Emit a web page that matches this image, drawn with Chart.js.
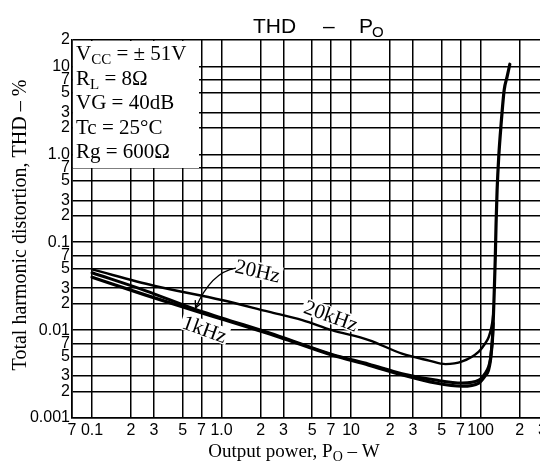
<!DOCTYPE html>
<html>
<head>
<meta charset="utf-8">
<style>
html, body { margin: 0; padding: 0; background: #fff; overflow: hidden; width: 540px; height: 463px; }
#wrap { width: 560px; height: 463px; }
</style>
</head>
<body>
<div id="wrap"><canvas id="thd" width="560" height="463"></canvas></div>
<script src="https://cdn.jsdelivr.net/npm/chart.js@4"></script>
<script>
// axis ticks (log-log paper)
const xTickValues = [0.07, 0.1, 0.2, 0.3, 0.5, 0.7, 1, 2, 3, 5, 7, 10, 20, 30, 50, 70, 100, 200, 300];
const xTickLabels = ['7', '0.1', '2', '3', '5', '7', '1.0', '2', '3', '5', '7', '10', '2', '3', '5', '7', '100', '2', '3'];
const yTickValues = [0.001, 0.002, 0.003, 0.005, 0.007, 0.01, 0.02, 0.03, 0.05, 0.07, 0.1, 0.2, 0.3, 0.5, 0.7, 1, 2, 3, 5, 7, 10, 20];
const yTickLabels = ['0.001', '2', '3', '5', '7', '0.01', '2', '3', '5', '7', '0.1', '2', '3', '5', '7', '1.0', '2', '3', '5', '7', '10', '2'];

// 20kHz curve
const po20k = [0.1, 0.3, 1, 2.3, 4.2, 7.1, 13.7, 24.7, 40, 53.5, 72, 96.8, 108, 115.7, 121, 123.7, 125.5];
const thd20k = [0.049, 0.032, 0.022, 0.0162, 0.013, 0.010, 0.0077, 0.0054, 0.0045, 0.0041, 0.0044, 0.0057, 0.007, 0.0084, 0.0108, 0.013, 0.016];

// 1kHz curve
const po1k = [0.1, 0.26, 0.63, 1, 2.8, 7.1, 13.7, 24.7, 45, 72, 96.8, 108, 115, 119, 121.5, 123.5, 125, 127.5, 129.8, 131.6, 134, 138, 144, 152, 160, 168];
const thd1k = [0.040, 0.025, 0.0165, 0.0134, 0.0083, 0.0052, 0.004, 0.0031, 0.0025, 0.0023, 0.0025, 0.003, 0.0035, 0.0045, 0.006, 0.008, 0.012, 0.0286, 0.068, 0.164, 0.39, 0.94, 2.23, 5.4, 7.6, 10.6];

// 20Hz curve
const po20 = [0.1, 0.26, 0.63, 1, 2.8, 7.1, 13.7, 24.7, 45, 72, 96.8, 108, 115, 119, 121.5, 123.5, 125];
const thd20 = [0.045, 0.028, 0.0172, 0.0138, 0.0085, 0.0053, 0.0041, 0.0032, 0.0027, 0.0025, 0.0027, 0.0032, 0.0038, 0.0047, 0.0062, 0.0082, 0.012];

// conditions box
const conditions = [
  [['V', 21, 0], ['CC', 15, 4], [' = \u00b1 51V', 21, 0]],
  [['R', 21, 0], ['L', 15, 4], [' = 8\u03a9', 21, 0]],
  [['VG = 40dB', 21, 0]],
  [['Tc = 25\u00b0C', 21, 0]],
  [['Rg = 600\u03a9', 21, 0]]
];

// curve labels (placed in data coordinates)
const noteText = ['20Hz', '1kHz', '20kHz'];
const noteP = [1.9, 0.74, 7.0];
const noteTHD = [0.047, 0.0102, 0.0145];
const noteAngle = [13, 20, 20];
// arrow from 20Hz label to its curve: start, control, tip
const arrowP = [1.29, 0.83, 0.63];
const arrowTHD = [0.0508, 0.0458, 0.0178];

const SERIF = '"Liberation Serif", "Times New Roman", serif';
const SANS = '"Liberation Sans", Arial, sans-serif';

function pts(xs, ys) {
  return xs.map((v, i) => ({ x: v, y: ys[i] }));
}

function runsWidth(ctx, runs, family) {
  let w = 0;
  runs.forEach(r => { ctx.font = r[1] + 'px ' + family; w += ctx.measureText(r[0]).width; });
  return w;
}

function drawRuns(ctx, x, y, runs, family) {
  runs.forEach(r => {
    ctx.font = r[1] + 'px ' + family;
    ctx.fillText(r[0], x, y + r[2]);
    x += ctx.measureText(r[0]).width;
  });
}

const paper = {
  id: 'paper',
  beforeDatasetsDraw(chart) {
    const ctx = chart.ctx, a = chart.chartArea, xs = chart.scales.x, ys = chart.scales.y;
    ctx.save();
    ctx.fillStyle = '#fff';
    ctx.fillRect(a.left + 1, a.top + 1, 126, 127);
    ctx.fillStyle = '#000';
    ctx.textAlign = 'left';
    ctx.textBaseline = 'alphabetic';
    conditions.forEach((runs, i) => drawRuns(ctx, a.left + 4, a.top + 20 + i * 24.5, runs, SERIF));

    noteText.forEach((t, i) => {
      const px = xs.getPixelForValue(noteP[i]), py = ys.getPixelForValue(noteTHD[i]);
      ctx.save();
      ctx.translate(px, py);
      ctx.rotate(noteAngle[i] * Math.PI / 180);
      ctx.font = '21px ' + SERIF;
      const w = ctx.measureText(t).width;
      ctx.fillStyle = '#fff';
      ctx.fillRect(-w / 2 - 2, -9, w + 4, 17);
      ctx.fillStyle = '#000';
      ctx.textAlign = 'center';
      ctx.textBaseline = 'middle';
      ctx.fillText(t, 0, 1);
      ctx.restore();
    });

    const ax = arrowP.map(v => xs.getPixelForValue(v));
    const ay = arrowTHD.map(v => ys.getPixelForValue(v));
    ctx.strokeStyle = '#000';
    ctx.lineWidth = 1.3;
    ctx.beginPath();
    ctx.moveTo(ax[0], ay[0]);
    ctx.quadraticCurveTo(ax[1], ay[1], ax[2], ay[2]);
    ctx.stroke();
    const ang = Math.atan2(ay[2] - ay[1], ax[2] - ax[1]);
    ctx.beginPath();
    [-0.45, 0.45].forEach(d => {
      ctx.moveTo(ax[2], ay[2]);
      ctx.lineTo(ax[2] - 8 * Math.cos(ang + d), ay[2] - 8 * Math.sin(ang + d));
    });
    ctx.stroke();
    ctx.restore();
  },
  afterDraw(chart) {
    const ctx = chart.ctx;
    ctx.save();
    ctx.fillStyle = '#000';
    ctx.textAlign = 'left';
    ctx.textBaseline = 'alphabetic';
    // title
    ctx.font = '21px ' + SANS;
    ctx.fillText('THD', 253, 33);
    ctx.fillText('\u2013', 323, 33);
    ctx.fillText('P', 359, 33);
    ctx.font = '15px ' + SANS;
    ctx.fillText('O', 372, 37);

    // x title
    const xr = [['Output power, P', 19, 0], ['O', 14, 4], [' \u2013 W', 19, 0]];
    const xw = runsWidth(ctx, xr, SERIF);
    drawRuns(ctx, 294 - xw / 2, 457, xr, SERIF);

    // y title
    ctx.translate(21, 225);
    ctx.rotate(-Math.PI / 2);
    ctx.textAlign = 'center';
    ctx.textBaseline = 'middle';
    ctx.font = '20px ' + SERIF;
    ctx.fillText('Total harmonic distortion, THD \u2013 %', 0, 0);
    ctx.restore();
  }
};

const gridStyle = { color: '#000', lineWidth: 1.5, drawTicks: false };

new Chart(document.getElementById('thd'), {
  type: 'line',
  data: {
    datasets: [
      { label: '20kHz', data: pts(po20k, thd20k), borderColor: '#000', borderWidth: 2.4 },
      { label: '20Hz', data: pts(po20, thd20), borderColor: '#000', borderWidth: 3 },
      { label: '1kHz', data: pts(po1k, thd1k), borderColor: '#000', borderWidth: 3.2 }
    ]
  },
  options: {
    responsive: false,
    animation: false,
    parsing: false,
    elements: {
      point: { radius: 0 },
      line: { cubicInterpolationMode: 'monotone', fill: false, borderCapStyle: 'round' }
    },
    layout: { padding: { top: 40, left: 0, right: 0, bottom: 0 } },
    plugins: { legend: { display: false }, title: { display: false }, tooltip: { enabled: false } },
    scales: {
      x: {
        type: 'logarithmic',
        min: 0.07,
        max: 410,
        bounds: 'data',
        grid: gridStyle,
        border: { display: true, color: '#000', width: 1.6 },
        afterBuildTicks: s => { s.ticks = xTickValues.map(v => ({ value: v })); },
        afterFit: s => { s.height = 45; },
        ticks: {
          autoSkip: false,
          maxRotation: 0,
          padding: 3,
          color: '#000',
          font: { family: SANS, size: 16 },
          callback: (v, i) => xTickLabels[i]
        }
      },
      y: {
        type: 'logarithmic',
        min: 0.001,
        max: 20,
        bounds: 'data',
        grid: gridStyle,
        border: { display: true, color: '#000', width: 1.6 },
        afterBuildTicks: s => { s.ticks = yTickValues.map(v => ({ value: v })); },
        afterFit: s => { s.width = 72; },
        ticks: {
          autoSkip: false,
          padding: 2,
          color: '#000',
          font: { family: SANS, size: 16 },
          callback: (v, i) => yTickLabels[i]
        }
      }
    }
  },
  plugins: [paper]
});
</script>
</body>
</html>
